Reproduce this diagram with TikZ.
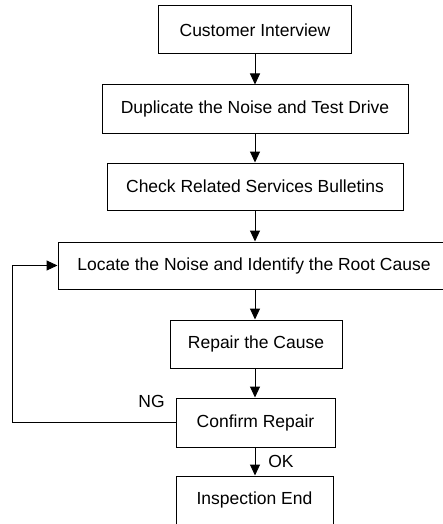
\documentclass[tikz,border=0pt]{standalone}
\usepackage{fontspec}
\setmainfont{Liberation Sans}
\usetikzlibrary{arrows.meta}
\begin{document}
\begin{tikzpicture}[x=1pt,y=1pt,
  box/.style={draw=black, line width=1pt, rectangle, inner sep=0pt, font=\fontsize{17.5}{20}\selectfont},
  conn/.style={line width=1pt, -{Triangle[width=10pt,length=11pt]}},
  lbl/.style={font=\fontsize{17.5}{20}\selectfont, inner sep=0pt}]
\useasboundingbox (0,0) rectangle (442,-524);
\node[box, minimum width=193pt, minimum height=48pt] (b1) at (255,-30) {Customer Interview};
\node[box, minimum width=306pt, minimum height=48pt] (b2) at (255,-109) {Duplicate the Noise and Test Drive};
\node[box, minimum width=296pt, minimum height=47pt] (b3) at (255,-186.5) {Check Related Services Bulletins};
\node[box, minimum width=392pt, minimum height=47pt] (b4) at (254,-265.5) {Locate the Noise and Identify the Root Cause};
\node[box, minimum width=172pt, minimum height=48pt] (b5) at (256,-344) {Repair the Cause};
\node[box, minimum width=159pt, minimum height=49pt] (b6) at (255.5,-422.5) {Confirm Repair};
\node[box, minimum width=157pt, minimum height=48pt] (b7) at (254.5,-500) {Inspection End};
\node[lbl] (ng) at (151.5,-401) {NG};
\node[lbl] (ok) at (281,-461) {OK};
\coordinate (fb) at (12,-422.5);
\draw[conn] (b1.south -| 255,0) -- (b2.north -| 255,0);
\draw[conn] (b2.south -| 255,0) -- (b3.north -| 255,0);
\draw[conn] (b3.south -| 255,0) -- (b4.north -| 255,0);
\draw[conn] (b4.south -| 255,0) -- (b5.north -| 255,0);
\draw[conn] (b5.south -| 255,0) -- (b6.north -| 255,0);
\draw[conn] (b6.south -| 255,0) -- (b7.north -| 255,0);
\draw[conn] (b6.west) -- (fb) |- (b4.west);
\end{tikzpicture}
\end{document}
